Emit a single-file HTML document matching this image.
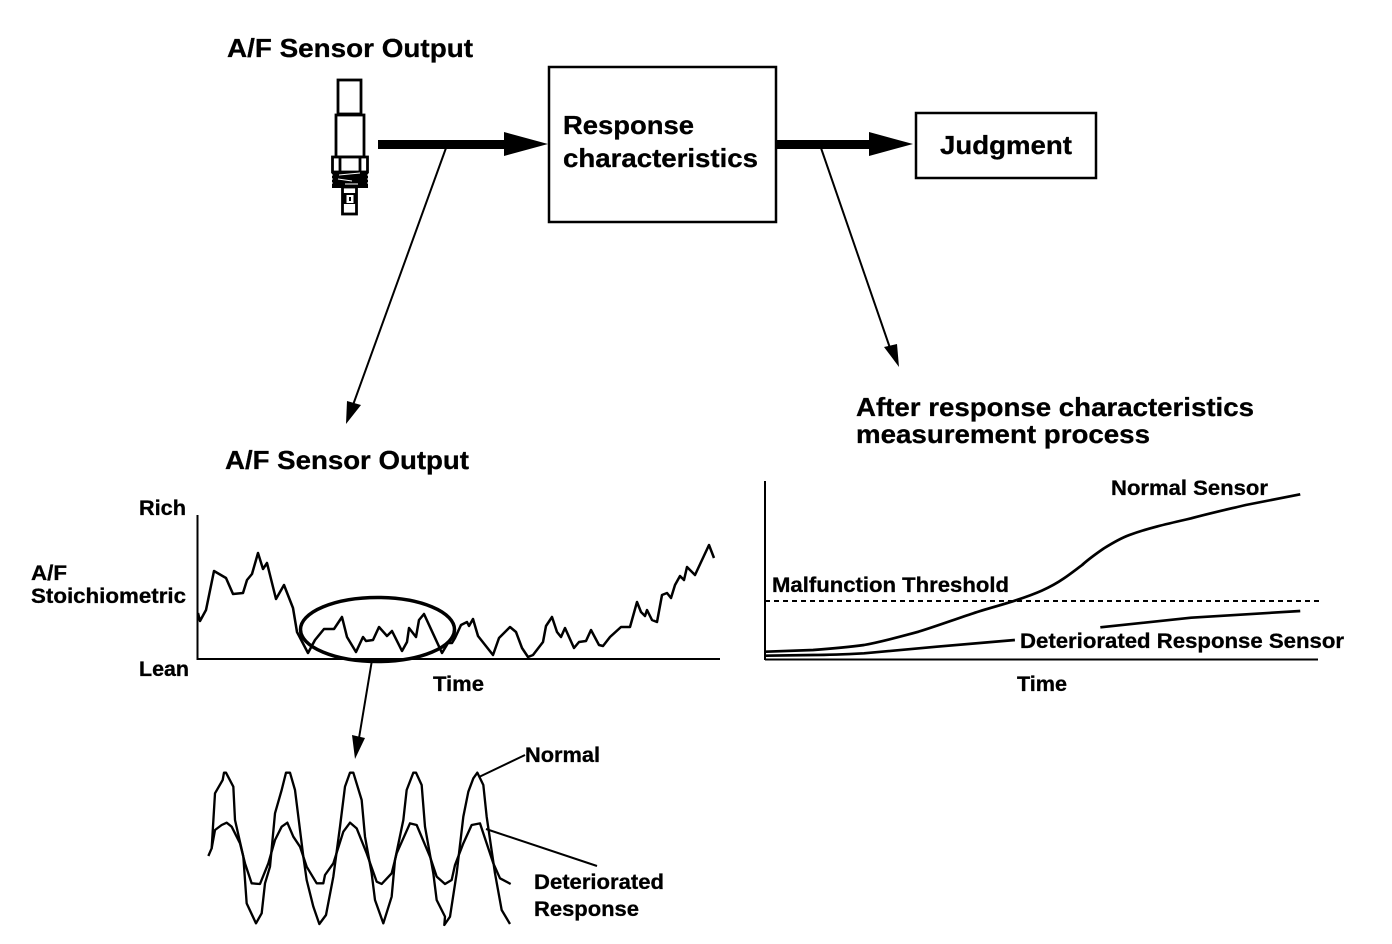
<!DOCTYPE html>
<html>
<head>
<meta charset="utf-8">
<style>
html,body{margin:0;padding:0;background:#fff;}
svg{display:block;}
text{font-family:"Liberation Sans",Arial,sans-serif;font-weight:bold;fill:#000;stroke:#000;stroke-width:0.3px;}
.l{font-size:26px;}
.s{font-size:21px;}
.ln{fill:none;stroke:#000;stroke-linejoin:round;}
</style>
</head>
<body>
<svg width="1392" height="944" viewBox="0 0 1392 944" xmlns="http://www.w3.org/2000/svg">
<rect width="1392" height="944" fill="#fff"/>

<!-- Sensor -->
<g fill="#fff" stroke="#000" stroke-width="2.800">
<rect x="338" y="80" width="23" height="34"/>
<rect x="336" y="115" width="28" height="42"/>
<rect x="332.500" y="157" width="35" height="15"/>
<line x1="340" y1="157" x2="340" y2="172"/>
<line x1="360" y1="157" x2="360" y2="172"/>
<rect x="342.500" y="187" width="14" height="27"/>
</g>
<rect x="332" y="172" width="36" height="16" fill="#000"/>
<g stroke="#fff" stroke-width="1" fill="none">
<path d="M339 175 L360 173 M338 179 L352 181 M345 184 L358 184"/>
<path d="M331 175h2M331 179h2M331 183h2M367 175h2M367 179h2M367 183h2"/>
</g>
<rect x="343" y="193" width="14" height="11" fill="#000"/>
<rect x="346.500" y="195" width="7" height="8" fill="#fff"/>
<rect x="349" y="197" width="2" height="4" fill="#000"/>

<!-- Boxes -->
<rect x="549" y="67" width="227" height="155" fill="#fff" stroke="#000" stroke-width="2.500"/>
<rect x="916" y="113" width="180" height="65" fill="#fff" stroke="#000" stroke-width="2.500"/>

<!-- Thick arrows -->
<rect x="378" y="140" width="128" height="9" fill="#000"/>
<polygon points="504,132 548,144 504,156" fill="#000"/>
<rect x="776" y="140" width="96" height="9" fill="#000"/>
<polygon points="869,132 913,144 869,156" fill="#000"/>

<!-- Thin arrows -->
<g stroke="#000" stroke-width="2" fill="none">
<line x1="446" y1="148" x2="353" y2="405"/>
<line x1="821" y1="148" x2="890" y2="348"/>
<line x1="372" y1="660" x2="359" y2="738"/>
<line x1="479" y1="777" x2="525" y2="755"/>
<line x1="486" y1="829" x2="597" y2="866"/>
</g>
<polygon points="346,424 347,401 361,405" fill="#000"/>
<polygon points="899,367 884,347 897,344" fill="#000"/>
<polygon points="355,759 352,735 365,738" fill="#000"/>

<!-- Left chart -->
<line x1="197.500" y1="515" x2="197.500" y2="660" stroke="#000" stroke-width="2"/>
<line x1="197" y1="659" x2="720" y2="659" stroke="#000" stroke-width="2"/>
<polyline class="ln" stroke-width="2.500" points="198,613 200,621 206,610 214,571 226,578 233,594 243,593 247,580 252,574 258,553 263,569 267,563 276,599 284,585 293,608 297,632 308,653 315,640 324,629 334,629 342,617 347,637 356,652 363,637 366,641 373,640 379,627 387,636 392,631 402,651 407,642 409,628 416,637 419,620 424,614 442,653 448,643 452,643 455,638 461,625 467,622 469,626 473,619 478,636 493,655 499,638 510,627 516,632 522,648 528,657 533,655 543,642 546,626 552,617 557,632 561,637 565,628 574,648 579,642 586,641 591,630 599,645 603,646 610,637 621,627 630,627 637,602 641,612 645,616 647,610 652,620 657,622 662,595 667,593 671,598 675,585 680,576 684,580 687,567 695,575 709,545 714,558"/>
<ellipse cx="377.500" cy="629.500" rx="77" ry="32" fill="none" stroke="#000" stroke-width="3.500"/>

<!-- Waves -->
<g transform="translate(200,760) scale(0.33333)">
<polyline class="ln" stroke-width="7" points="25,288 35,265 45,100 68,60 72,38 78,38 100,80 105,180 130,290 140,430 168,490 185,460 195,370 210,320 225,160 245,90 258,38 270,38 285,90 310,290 320,360 340,440 358,492 378,465 400,350 420,200 435,80 450,38 460,38 485,120 495,230 515,340 525,420 550,490 575,410 585,300 610,180 620,90 640,38 648,38 665,75 675,200 700,340 710,420 735,470 733,495 750,470 770,340 790,170 805,95 820,55 832,38 850,75 860,170 885,340 905,450 930,492"/>
<polyline class="ln" stroke-width="7" points="35,265 45,210 65,195 80,188 95,200 120,250 135,310 155,370 180,372 205,310 225,240 245,200 262,188 280,230 300,260 320,320 350,370 370,370 375,345 400,310 430,215 450,188 470,205 500,280 530,365 545,372 575,340 590,280 630,190 650,195 690,290 710,350 735,372 755,360 765,315 790,250 815,195 840,190 880,310 900,355 932,372"/>
</g>

<!-- Right chart -->
<line x1="765" y1="481" x2="765" y2="660" stroke="#000" stroke-width="2"/>
<line x1="765" y1="659.500" x2="1318" y2="659.500" stroke="#000" stroke-width="2"/>
<line x1="765" y1="601" x2="1320" y2="601" stroke="#000" stroke-width="2" stroke-dasharray="5 4"/>
<g transform="translate(755,475) scale(0.36350,0.33333)">
<path class="ln" stroke-width="8" d="M30 530 L160 525 C220 520 260 516 300 510 C350 500 400 485 450 470 C500 453 550 433 600 415 C640 400 680 390 720 375 C770 357 810 340 850 310 C870 295 885 282 900 270 C920 250 940 235 960 220 C985 203 1005 190 1030 180 C1085 158 1140 145 1200 130 C1250 115 1300 103 1350 90 L1500 58"/>
<path class="ln" stroke-width="8" d="M30 542 L160 540 C210 540 250 538 300 535 L500 515 L715 495"/>
<path class="ln" stroke-width="8" d="M950 457 L1200 428 L1500 408"/>
</g>

<!-- Labels -->
<text class="l" x="227" y="57" textLength="246" lengthAdjust="spacingAndGlyphs">A/F Sensor Output</text>
<text class="l" x="563" y="134" textLength="131" lengthAdjust="spacingAndGlyphs">Response</text>
<text class="l" x="563" y="167" textLength="195" lengthAdjust="spacingAndGlyphs">characteristics</text>
<text class="l" x="940" y="154" textLength="132" lengthAdjust="spacingAndGlyphs">Judgment</text>
<text class="l" x="856" y="416" textLength="398" lengthAdjust="spacingAndGlyphs">After response characteristics</text>
<text class="l" x="856" y="443" textLength="294" lengthAdjust="spacingAndGlyphs">measurement process</text>
<text class="l" x="225" y="469" textLength="244" lengthAdjust="spacingAndGlyphs">A/F Sensor Output</text>
<text class="s" x="139" y="515" textLength="47" lengthAdjust="spacingAndGlyphs">Rich</text>
<text class="s" x="31" y="580" textLength="36" lengthAdjust="spacingAndGlyphs">A/F</text>
<text class="s" x="31" y="603" textLength="155" lengthAdjust="spacingAndGlyphs">Stoichiometric</text>
<text class="s" x="139" y="676" textLength="50" lengthAdjust="spacingAndGlyphs">Lean</text>
<text class="s" x="433" y="691" textLength="51" lengthAdjust="spacingAndGlyphs">Time</text>
<text class="s" x="525" y="762" textLength="75" lengthAdjust="spacingAndGlyphs">Normal</text>
<text class="s" x="534" y="889" textLength="130" lengthAdjust="spacingAndGlyphs">Deteriorated</text>
<text class="s" x="534" y="916" textLength="105" lengthAdjust="spacingAndGlyphs">Response</text>
<text class="s" x="1017" y="691" textLength="50" lengthAdjust="spacingAndGlyphs">Time</text>
<text class="s" x="1111" y="495" textLength="157" lengthAdjust="spacingAndGlyphs">Normal Sensor</text>
<text class="s" x="772" y="592" textLength="237" lengthAdjust="spacingAndGlyphs">Malfunction Threshold</text>
<text class="s" x="1020" y="648" textLength="324" lengthAdjust="spacingAndGlyphs">Deteriorated Response Sensor</text>
</svg>
</body>
</html>
